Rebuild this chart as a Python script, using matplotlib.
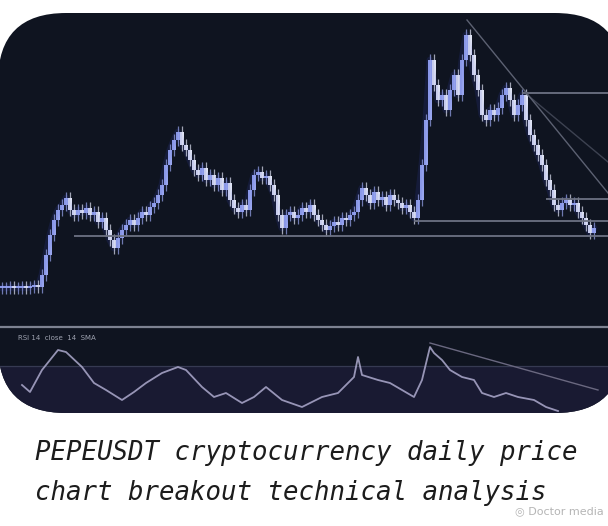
import matplotlib
matplotlib.use('Agg')
import matplotlib.pyplot as plt
from matplotlib.patches import FancyBboxPatch

# daily closes (arbitrary price units), one per candle
closes = [37, 37, 38, 37, 37, 38, 37, 38, 39, 38,
          50, 70, 90, 105, 115, 120, 127, 115, 110, 115,
          112, 117, 110, 113, 103, 107, 95, 85, 77, 87,
          95, 100, 105, 100, 107, 113, 110, 118, 122, 130,
          140, 160, 175, 185, 193, 180, 175, 165, 155, 150,
          157, 145, 150, 140, 147, 135, 142, 125, 117, 113,
          120, 115, 135, 150, 153, 147, 149, 140, 130, 110,
          97, 110, 113, 107, 110, 117, 113, 120, 110, 105,
          100, 95, 99, 103, 100, 107, 105, 110, 113, 125,
          137, 130, 122, 133, 125, 128, 120, 130, 125, 122,
          117, 120, 113, 107, 125, 160, 205, 265, 240, 225,
          230, 215, 235, 250, 230, 265, 290, 270, 250, 235,
          210, 205, 215, 210, 217, 230, 237, 225, 210, 220,
          230, 205, 190, 180, 170, 160, 145, 135, 120, 115,
          122, 125, 120, 122, 113, 107, 100, 92, 97]

# support / resistance levels: (price, first bar)
levels = [89, 104, 126, 232]
level_start = [18, 103, 136, 130]

# trend lines: (bar, price) pairs
trend_a = [(116.25, 305), (151.5, 132)]
trend_b = [(130.75, 232), (151.5, 163)]

# oscillator (lower pane)
osc_bar = [5, 7, 10, 14, 16, 20, 23, 26, 30, 33, 36, 40, 44, 46, 50, 53,
           56, 60, 63, 66, 70, 75, 80, 84, 88, 89, 90, 94, 97, 100, 103,
           105, 107, 108, 110, 112, 115, 118, 120, 123, 126, 129, 133,
           136, 139]
osc_val = [28, 21, 43, 63, 61, 46, 30, 23, 13, 21, 30, 40, 46, 43, 26, 16,
           20, 10, 16, 26, 13, 6, 16, 20, 36, 56, 38, 33, 30, 23, 16,
           33, 66, 60, 53, 43, 36, 33, 20, 16, 20, 16, 13,
           6, 2]
osc_trend = [(107, 70), (149, 23)]

W, H = 608, 526
fig = plt.figure(figsize=(W / 100, H / 100), dpi=100)
fig.patch.set_facecolor('white')

def rect(x0, y0, x1, y1):
    # pixel box (top-left origin) -> figure fraction
    return [x0 / W, 1 - y1 / H, (x1 - x0) / W, (y1 - y0) / H]

# dark rounded panel
bg = fig.add_axes([0, 0, 1, 1])
bg.set_xlim(0, W)
bg.set_ylim(H, 0)
bg.axis('off')
panel = FancyBboxPatch((-2, 13), 625, 400, boxstyle='round,pad=0,rounding_size=68',
                       facecolor='#0f1420', edgecolor='none')
bg.add_patch(panel)
bg.plot([0, W], [327, 327], color='#7d8291', lw=1.6)

xl = (-0.5, 151.5)

# price pane
ax = fig.add_axes(rect(0, 12, W, 325))
ax.set_xlim(*xl)
ax.set_ylim(0, 313)
ax.axis('off')

idx = list(range(len(closes)))
opens = [closes[0]] + closes[:-1]
ax.plot(idx, closes, color='#3848c8', lw=5, alpha=0.15, solid_capstyle='round')
for i in idx:
    o, c = opens[i], closes[i]
    lo, hi = min(o, c), max(o, c)
    col = '#98a5ee' if c >= o else '#dfe3f4'
    ax.vlines(i, lo - 6, hi + 6, color=col, lw=0.9, alpha=0.7)
    ax.bar(i, max(hi - lo, 2), bottom=lo, width=0.8, color=col, edgecolor='none')

for lv, st in zip(levels, level_start):
    ax.hlines(lv, st, xl[1], color='#6d7283', lw=1.3)
for tl, a in ((trend_a, 1.0), (trend_b, 0.6)):
    ax.plot([tl[0][0], tl[1][0]], [tl[0][1], tl[1][1]], color='#5c6172', lw=1.0, alpha=a)

# oscillator pane
ax2 = fig.add_axes(rect(0, 330, W, 413))
ax2.set_xlim(*xl)
ax2.set_ylim(0, 83)
ax2.axis('off')
band = ax2.axhspan(0, 47, color='#191a32', lw=0)
band.set_clip_path(panel)
ax2.axhline(47, color='#363a52', lw=0.9)
ln, = ax2.plot(osc_bar, osc_val, color='#b7b4d8', lw=1.3, alpha=0.8)
ln.set_clip_path(panel)
ax2.plot([osc_trend[0][0], osc_trend[1][0]], [osc_trend[0][1], osc_trend[1][1]],
         color='#6a6880', lw=1.0)
ax2.text(4, 78, 'RSI 14  close  14  SMA', fontsize=5, color='#9ea2b0',
         va='top', ha='left')

# caption
cap = dict(fontsize=18.5, family='DejaVu Sans Mono', style='italic', color='#1c1c1c',
           va='baseline', ha='left')
fig.text(35 / W, 1 - 460 / H, 'PEPEUSDT cryptocurrency daily price', **cap)
fig.text(35 / W, 1 - 500 / H, 'chart breakout technical analysis', **cap)
fig.text(604 / W, 1 - 514 / H, '◎ Doctor media', fontsize=8, color='#b5b5b5',
         ha='right', va='baseline')

plt.savefig('out.png', dpi=100)
